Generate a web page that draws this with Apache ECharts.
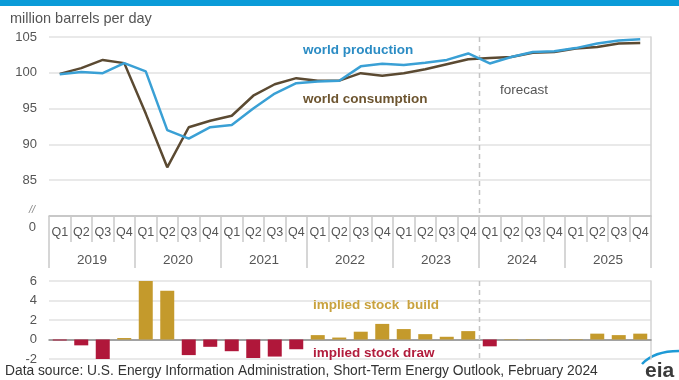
<!DOCTYPE html>
<html>
<head>
<meta charset="utf-8">
<script src="https://cdn.jsdelivr.net/npm/echarts@6/dist/echarts.min.js"></script>
<style>
  html, body { margin: 0; padding: 0; background: #fff; }
  #chart { width: 679px; height: 380px; }
</style>
</head>
<body>
<div id="chart"></div>
<script>
// Quarterly categories, 2019–2025
const quarters = [
  'Q1','Q2','Q3','Q4','Q1','Q2','Q3','Q4','Q1','Q2','Q3','Q4','Q1','Q2',
  'Q3','Q4','Q1','Q2','Q3','Q4','Q1','Q2','Q3','Q4','Q1','Q2','Q3','Q4'
];
const years = ['2019', '2020', '2021', '2022', '2023', '2024', '2025'];

// million barrels per day
const worldProduction = [
  99.8, 100.1, 99.95, 101.35, 100.2, 92.0, 90.8, 92.4, 92.7, 95.0,
  97.1, 98.55, 98.8, 98.9, 100.9, 101.25, 101.1, 101.4, 101.8, 102.7,
  101.3, 102.2, 102.9, 103.0, 103.45, 104.1, 104.5, 104.7
];
const worldConsumption = [
  99.85, 100.65, 101.8, 101.35, 94.3, 86.8, 92.4, 93.3, 94.0, 96.8,
  98.4, 99.25, 98.9, 98.9, 99.95, 99.6, 99.95, 100.5, 101.2, 101.9,
  102.05, 102.2, 102.8, 102.9, 103.4, 103.6, 104.1, 104.15
];
// implied stock change (build > 0, draw < 0)
const stockChange = [
  -0.1, -0.6, -2.0, 0.15, 6.1, 5.0, -1.6, -0.75, -1.2, -1.9,
  -1.75, -1.0, 0.45, 0.2, 0.8, 1.6, 1.07, 0.55, 0.28, 0.86,
  -0.7, 0.05, 0.05, 0.03, 0.05, 0.6, 0.45, 0.6
];

const topTicks = [80, 105, 5];      // min, max, interval
const bottomTicks = [-2, 6, 2];
const forecastStart = 20;           // index of 2024 Q1

const FONT = '"Liberation Sans", Arial, sans-serif';
const GRID_COLOR = '#e2e2e2';
const TICK_COLOR = '#c9c9c9';
const LABEL_COLOR = '#555';
const BUILD_COLOR = '#c49a2c';
const DRAW_COLOR = '#b0173a';

const chart = echarts.init(document.getElementById('chart'), null, { renderer: 'canvas' });

const option = {
  animation: false,
  backgroundColor: '#fff',
  textStyle: { fontFamily: FONT },
  grid: [
    { left: 49, right: 28, top: 37, height: 179 },
    { left: 49, right: 28, top: 281, height: 78 }
  ],
  xAxis: [
    {
      type: 'category', gridIndex: 0, data: quarters, boundaryGap: true,
      axisLine: { lineStyle: { color: '#bdbdbd', width: 1.5 } },
      axisTick: { show: true, interval: 0, length: 26, lineStyle: { color: TICK_COLOR, width: 1.5 } },
      axisLabel: { interval: 0, color: LABEL_COLOR, fontSize: 12.5, margin: 10, fontFamily: FONT }
    },
    {
      type: 'category', gridIndex: 0, data: years, position: 'bottom', boundaryGap: true,
      axisLine: { show: false },
      axisTick: { show: true, interval: 0, length: 52, lineStyle: { color: TICK_COLOR, width: 1.5 } },
      axisLabel: { interval: 0, color: LABEL_COLOR, fontSize: 13.5, margin: 37, fontFamily: FONT }
    },
    {
      type: 'category', gridIndex: 1, data: quarters, boundaryGap: true,
      axisLine: { onZero: true, lineStyle: { color: '#8a8a8a', width: 1.5 } },
      axisTick: { show: false },
      axisLabel: { show: false }
    }
  ],
  yAxis: [
    {
      type: 'value', gridIndex: 0, min: topTicks[0], max: topTicks[1], interval: topTicks[2],
      axisLine: { show: false }, axisTick: { show: false },
      splitLine: { lineStyle: { color: GRID_COLOR, width: 1.5 } },
      axisLabel: {
        color: LABEL_COLOR, fontSize: 13, margin: 12, fontFamily: FONT,
        formatter: v => (v === topTicks[0] ? '' : String(v))
      }
    },
    {
      type: 'value', gridIndex: 0, position: 'right', min: topTicks[0], max: topTicks[1],
      axisLine: { show: true, lineStyle: { color: '#d3d3d3', width: 1.5 } },
      axisTick: { show: false }, axisLabel: { show: false }, splitLine: { show: false }
    },
    {
      type: 'value', gridIndex: 1, min: bottomTicks[0], max: bottomTicks[1], interval: bottomTicks[2],
      axisLine: { show: false }, axisTick: { show: false },
      splitLine: { lineStyle: { color: GRID_COLOR, width: 1.5 } },
      axisLabel: { color: LABEL_COLOR, fontSize: 13, margin: 12, fontFamily: FONT }
    },
    {
      type: 'value', gridIndex: 1, position: 'right', min: bottomTicks[0], max: bottomTicks[1],
      axisLine: { show: true, lineStyle: { color: '#d3d3d3', width: 1.5 } },
      axisTick: { show: false }, axisLabel: { show: false }, splitLine: { show: false }
    }
  ],
  series: [
    {
      name: 'world consumption', type: 'line', xAxisIndex: 0, yAxisIndex: 0,
      data: worldConsumption, symbol: 'none', z: 3,
      lineStyle: { color: '#5b4a32', width: 2.5 }
    },
    {
      name: 'world production', type: 'line', xAxisIndex: 0, yAxisIndex: 0,
      data: worldProduction, symbol: 'none', z: 4,
      lineStyle: { color: '#3aa0d5', width: 2.5 }
    },
    {
      name: 'implied stock change', type: 'bar', xAxisIndex: 2, yAxisIndex: 2,
      data: stockChange, barWidth: 14,
      itemStyle: { color: p => (p.value >= 0 ? BUILD_COLOR : DRAW_COLOR) }
    }
  ]
};

chart.setOption(option);

// Forecast divider: halfway between 2023 Q4 and 2024 Q1, in both panels
const xa = chart.convertToPixel({ xAxisIndex: 0 }, forecastStart - 1);
const xb = chart.convertToPixel({ xAxisIndex: 0 }, forecastStart);
const xDiv = Math.round((xa + xb) / 2) + 0.5;
const topY0 = chart.convertToPixel({ yAxisIndex: 0 }, topTicks[1]);
const topY1 = chart.convertToPixel({ yAxisIndex: 0 }, topTicks[0]);
const botY0 = chart.convertToPixel({ yAxisIndex: 2 }, bottomTicks[1]);
const botY1 = chart.convertToPixel({ yAxisIndex: 2 }, bottomTicks[0]);

const dashed = { stroke: '#c4c4c4', lineWidth: 1.5, lineDash: [5, 4] };

chart.setOption({
  graphic: [
    { type: 'rect', left: 0, top: 0, shape: { width: 679, height: 6 }, style: { fill: '#0b9bd8' } },
    { type: 'text', x: 10, y: 19, style: { text: 'million barrels per day', font: '14.5px ' + FONT, fill: '#555', verticalAlign: 'middle' } },
    // axis break marker and zero label
    { type: 'text', x: 35, y: 210, style: { text: '//', font: 'italic 11px ' + FONT, fill: '#888', align: 'right', verticalAlign: 'middle' } },
    { type: 'text', x: 36, y: 227, style: { text: '0', font: '13px ' + FONT, fill: LABEL_COLOR, align: 'right', verticalAlign: 'middle' } },
    // forecast dividers
    { type: 'line', shape: { x1: xDiv, y1: topY0, x2: xDiv, y2: topY1 }, style: dashed, z: 1 },
    { type: 'line', shape: { x1: xDiv, y1: botY0, x2: xDiv, y2: botY1 }, style: dashed, z: 1 },
    // series labels
    { type: 'text', x: 303, y: 50, style: { text: 'world production', font: 'bold 13.5px ' + FONT, fill: '#2b8cc4', verticalAlign: 'middle' } },
    { type: 'text', x: 303, y: 99, style: { text: 'world consumption', font: 'bold 13.5px ' + FONT, fill: '#6d5530', verticalAlign: 'middle' } },
    { type: 'text', x: 500, y: 90, style: { text: 'forecast', font: '13.5px ' + FONT, fill: '#555', verticalAlign: 'middle' } },
    { type: 'text', x: 313, y: 305, style: { text: 'implied stock  build', font: 'bold 13.5px ' + FONT, fill: '#c9a23e', verticalAlign: 'middle' } },
    { type: 'text', x: 313, y: 353, style: { text: 'implied stock draw', font: 'bold 13.5px ' + FONT, fill: '#b21c3c', verticalAlign: 'middle' } },
    // source note
    { type: 'text', x: 5, y: 371, style: { text: 'Data source: U.S. Energy Information Administration, Short-Term Energy Outlook, February 2024', font: '13.8px ' + FONT, fill: '#333', verticalAlign: 'middle' } },
    // eia mark
    { type: 'bezierCurve', shape: { x1: 642, y1: 364, x2: 679, y2: 351, cpx1: 654, cpy1: 351 }, style: { stroke: '#1e9ad6', lineWidth: 2.5, fill: null } },
    { type: 'text', x: 645, y: 371, style: { text: 'eia', font: 'bold 21px ' + FONT, fill: '#3a3a3a', verticalAlign: 'middle' } }
  ]
});
</script>
</body>
</html>
